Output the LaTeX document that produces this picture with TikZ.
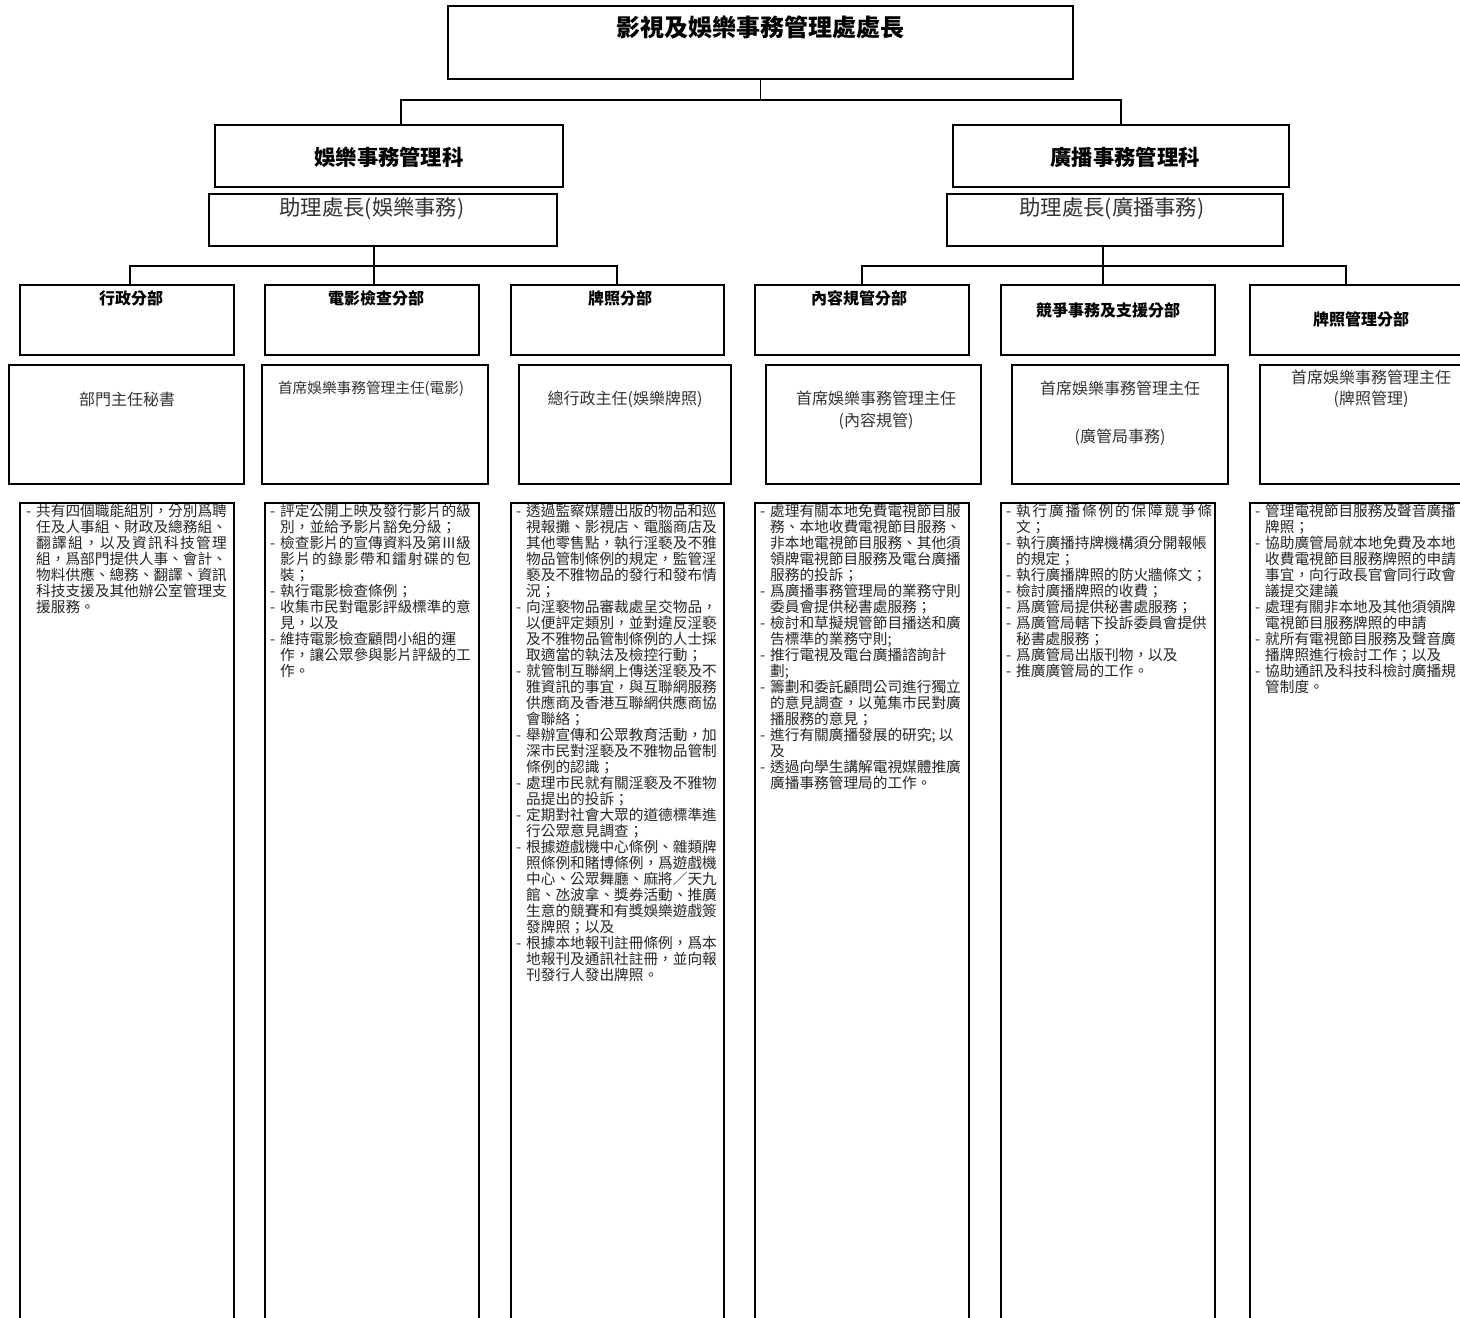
\documentclass[tikz,border=0pt]{standalone}
\usepackage{fontspec}
\setmainfont{Noto Sans CJK TC}
\usetikzlibrary{calc}
\newcommand\bl{\makebox[10pt][l]{-}}
\newcommand\cl{\hspace*{10pt}}
\newcommand\spreadline[2][190.7pt]{\hbox to #1{\spreadloop#2\relax}}
\def\spreadloop#1{\ifx\relax#1\else#1\expandafter\spreadnext\fi}
\def\spreadnext#1{\ifx\relax#1\else\hfil#1\expandafter\spreadnext\fi}
\newcommand\bx[6]{\node[#6, minimum width={#4pt-#2pt}, minimum height={#5pt-#3pt}] (#1) at ({(#2+#4)/2},{-(#3+#5)/2}) {};}
\tikzset{
  x=1pt, y=1pt,
  frame/.style={draw, line width=1.8pt, inner sep=0pt, outer sep=0pt},
  colframe/.style={draw, line width=1.5pt, inner sep=0pt, outer sep=0pt},
  conn/.style={line width=1.5pt},
  titletext/.style={inner sep=0pt, font=\fontsize{24}{28}\selectfont\bfseries},
  sectext/.style={inner sep=0pt, font=\fontsize{21.33}{25}\selectfont\bfseries},
  asstext/.style={inner sep=0pt, text=black!80, font=\fontsize{21.33}{25}\selectfont},
  depttext/.style={inner sep=0pt, font=\fontsize{16}{19}\selectfont\bfseries},
  offtext/.style={inner sep=0pt, align=center, text=black!80, font=\fontsize{16}{22}\selectfont},
  body/.style={anchor=north west, inner sep=0pt, align=left, text=black!85, font=\fontsize{14.67}{16}\selectfont},
}
\begin{document}
\begin{tikzpicture}
\useasboundingbox[fill=white] (0,0) rectangle (1460,-1318);
% boxes
\bx{top}{448}{6}{1073}{79}{frame}
\bx{sec1}{215}{125}{563}{187}{frame}
\bx{sec2}{953}{125}{1289}{187}{frame}
\bx{as1}{209}{194}{557}{246}{frame}
\bx{as2}{947}{194}{1283}{246}{frame}
\bx{dn1}{20}{285}{234}{355}{frame}
\bx{dn2}{265}{285}{479}{355}{frame}
\bx{dn3}{511}{285}{724}{355}{frame}
\bx{dn4}{755}{285}{969}{355}{frame}
\bx{dn5}{1001}{285}{1215}{355}{frame}
\bx{dn6}{1250}{285}{1464}{355}{frame}
\bx{of1}{9}{365}{244}{484}{frame}
\bx{of2}{262}{365}{488}{484}{frame}
\bx{of3}{519}{365}{731}{484}{frame}
\bx{of4}{766}{365}{981}{484}{frame}
\bx{of5}{1012}{365}{1228}{484}{frame}
\bx{of6}{1260}{365}{1464}{484}{frame}
\bx{du1}{20}{503}{234}{1330}{colframe}
\bx{du2}{265}{503}{479}{1330}{colframe}
\bx{du3}{511}{503}{724}{1330}{colframe}
\bx{du4}{755}{503}{969}{1330}{colframe}
\bx{du5}{1001}{503}{1215}{1330}{colframe}
\bx{du6}{1250}{503}{1464}{1330}{colframe}
% connectors
\coordinate (bt) at (0,-100);
\coordinate (bb) at (0,-266);
\coordinate (xa) at (401,0);
\coordinate (xb) at (1121,0);
\coordinate (x1) at (130,0);
\coordinate (x2) at (374,0);
\coordinate (x3) at (617,0);
\coordinate (x5) at (1103,0);
\coordinate (x6) at (1346,0);
\draw[conn] (top.south) -- (top.south |- bt);
\draw[conn] (xa |- sec1.north) |- (xb |- bt) -- (xb |- sec2.north);
\draw[conn] (x1 |- dn1.north) |- (x3 |- bb) -- (x3 |- dn3.north);
\draw[conn] (x2 |- as1.south) -- (x2 |- dn2.north);
\draw[conn] (dn4.north) |- (x6 |- bb) -- (x6 |- dn6.north);
\draw[conn] (x5 |- as2.south) -- (x5 |- dn5.north);
% titles
\node[titletext] (t0) at (760,-27) {影視及娛樂事務管理處處長};
\node[sectext] (t1) at (389,-157) {娛樂事務管理科};
\node[sectext] (t2) at (1125,-157) {廣播事務管理科};
\node[asstext] (a1) at (372,-209) {助理處長(娛樂事務)};
\node[asstext] (a2) at (1112,-209) {助理處長(廣播事務)};
% department titles
\node[depttext] (n1) at (131,-298) {行政分部};
\node[depttext] (n2) at (376,-298) {電影檢查分部};
\node[depttext] (n3) at (620,-298) {牌照分部};
\node[depttext] (n4) at (859,-298) {內容規管分部};
\node[depttext] (n5) at (1108,-310) {競爭事務及支援分部};
\node[depttext] (n6) at (1361,-319) {牌照管理分部};
% officers
\node[offtext] (o1) at (127,-399) {部門主任秘書};
\node[offtext, font=\fontsize{14.67}{18}\selectfont] (o2) at (371,-389) {首席娛樂事務管理主任(電影)};
\node[offtext] (o3) at (625,-399) {總行政主任(娛樂牌照)};
\node[offtext] (o4) at (876,-410) {首席娛樂事務管理主任\\(內容規管)};
\node[offtext, font=\fontsize{16}{24}\selectfont] (o5) at (1120,-413) {首席娛樂事務管理主任\\[24pt](廣管局事務)};
\node[offtext, font=\fontsize{16}{21}\selectfont] (o6) at (1371,-388.5) {首席娛樂事務管理主任\\(牌照管理)};
% duties
\node[body] (b1) at (26,-504) {\bl 共有四個職能組別，分別爲聘\\
\cl 任及人事組、財政及總務組、\\
\cl \spreadline{翻譯組，以及資訊科技管理}\\
\cl 組，爲部門提供人事、會計、\\
\cl 物料供應、總務、翻譯、資訊\\
\cl 科技支援及其他辦公室管理支\\
\cl 援服務。};
\node[body] (b2) at (270,-504) {\bl 評定公開上映及發行影片的級\\
\cl 別，並給予影片豁免分級；\\
\bl 檢查影片的宣傳資料及第Ⅲ級\\
\cl \spreadline{影片的錄影帶和鐳射碟的包}\\
\cl 裝；\\
\bl 執行電影檢查條例；\\
\bl 收集市民對電影評級標準的意\\
\cl 見，以及\\
\bl 維持電影檢查顧問小組的運\\
\cl 作，讓公眾參與影片評級的工\\
\cl 作。};
\node[body] (b3) at (516,-504) {\bl 透過監察媒體出版的物品和巡\\
\cl 視報攤、影視店、電腦商店及\\
\cl 其他零售點，執行淫褻及不雅\\
\cl 物品管制條例的規定，監管淫\\
\cl 褻及不雅物品的發行和發布情\\
\cl 況；\\
\bl 向淫褻物品審裁處呈交物品，\\
\cl 以便評定類別，並對違反淫褻\\
\cl 及不雅物品管制條例的人士採\\
\cl 取適當的執法及檢控行動；\\
\bl 就管制互聯網上傳送淫褻及不\\
\cl 雅資訊的事宜，與互聯網服務\\
\cl 供應商及香港互聯網供應商協\\
\cl 會聯絡；\\
\bl 舉辦宣傳和公眾教育活動，加\\
\cl 深市民對淫褻及不雅物品管制\\
\cl 條例的認識；\\
\bl 處理市民就有關淫褻及不雅物\\
\cl 品提出的投訴；\\
\bl 定期對社會大眾的道德標準進\\
\cl 行公眾意見調查；\\
\bl 根據遊戲機中心條例、雜類牌\\
\cl 照條例和賭博條例，爲遊戲機\\
\cl 中心、公眾舞廳、麻將／天九\\
\cl 館、氹波拿、獎券活動、推廣\\
\cl 生意的競賽和有獎娛樂遊戲簽\\
\cl 發牌照；以及\\
\bl 根據本地報刊註冊條例，爲本\\
\cl 地報刊及通訊社註冊，並向報\\
\cl 刊發行人發出牌照。};
\node[body] (b4) at (760,-504) {\bl 處理有關本地免費電視節目服\\
\cl 務、本地收費電視節目服務、\\
\cl 非本地電視節目服務、其他須\\
\cl 領牌電視節目服務及電台廣播\\
\cl 服務的投訴；\\
\bl 爲廣播事務管理局的業務守則\\
\cl 委員會提供秘書處服務；\\
\bl 檢討和草擬規管節目播送和廣\\
\cl 告標準的業務守則;\\
\bl 推行電視及電台廣播諮詢計\\
\cl 劃;\\
\bl 籌劃和委託顧問公司進行獨立\\
\cl 的意見調查，以蒐集市民對廣\\
\cl 播服務的意見；\\
\bl 進行有關廣播發展的研究; 以\\
\cl 及\\
\bl 透過向學生講解電視媒體推廣\\
\cl 廣播事務管理局的工作。};
\node[body] (b5) at (1006,-504) {\bl \spreadline[196pt]{執行廣播條例的保障競爭條}\\
\cl 文；\\
\bl 執行廣播持牌機構須分開報帳\\
\cl 的規定；\\
\bl 執行廣播牌照的防火牆條文；\\
\bl 檢討廣播牌照的收費；\\
\bl 爲廣管局提供秘書處服務；\\
\bl 爲廣管局轄下投訴委員會提供\\
\cl 秘書處服務；\\
\bl 爲廣管局出版刊物，以及\\
\bl 推廣廣管局的工作。};
\node[body] (b6) at (1255,-504) {\bl 管理電視節目服務及聲音廣播\\
\cl 牌照；\\
\bl 協助廣管局就本地免費及本地\\
\cl 收費電視節目服務牌照的申請\\
\cl 事宜，向行政長官會同行政會\\
\cl 議提交建議\\
\bl 處理有關非本地及其他須領牌\\
\cl 電視節目服務牌照的申請\\
\bl 就所有電視節目服務及聲音廣\\
\cl 播牌照進行檢討工作；以及\\
\bl 協助通訊及科技科檢討廣播規\\
\cl 管制度。};
\end{tikzpicture}
\end{document}
